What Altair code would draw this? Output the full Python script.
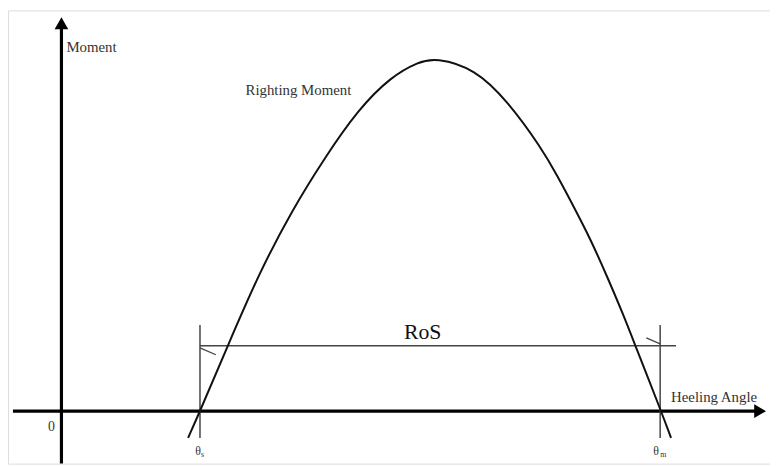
import altair as alt
import pandas as pd

# Righting moment curve (heeling angle units, moment units)
curve_x = [128, 140, 168, 200, 233, 266, 300, 333, 361, 378, 418, 451, 485, 501, 518, 535, 551, 568, 580, 606, 616]
curve_y = [-27, 0, 66, 140, 203, 256, 305, 338, 353, 357, 346, 313, 266, 238, 206, 173, 137, 97, 66, 0, -27]

# key angles / levels
theta_s = 140
theta_m = 605
ros_level = 66
ros_right_end = 621
tick_low, tick_high = -27, 87

# axes extents
x_axis_start, x_axis_end = -49, 706
y_axis_start, y_axis_end = -53, 392

# slanted small dimension marks
slant_x1 = [140, 591]
slant_y1 = [64, 74]
slant_x2 = [156, 605]
slant_y2 = [57, 68]

# labels
label_text = ["Moment", "Righting Moment", "Heeling Angle"]
label_x = [5, 186, 616]
label_y = [363, 319, 9]

X_DOMAIN = [-54, 716]
Y_DOMAIN = [-53, 405]
FONT = "Liberation Serif"

xs = alt.Scale(domain=X_DOMAIN, nice=False, zero=False)
ys = alt.Scale(domain=Y_DOMAIN, nice=False, zero=False)


def X(f, t="quantitative"):
    return alt.X(f, type=t, scale=xs, axis=None)


def Y(f, t="quantitative"):
    return alt.Y(f, type=t, scale=ys, axis=None)


curve_df = pd.DataFrame({"x": curve_x, "y": curve_y})
curve = alt.Chart(curve_df).mark_line(
    color="#111", strokeWidth=2, interpolate="basis"
).encode(x=X("x"), y=Y("y"), order="x:Q")

# main axes
axes_df = pd.DataFrame({
    "x": [x_axis_start, 0],
    "x2": [x_axis_end, 0],
    "y": [0, y_axis_start],
    "y2": [0, y_axis_end],
})
axes = alt.Chart(axes_df).mark_rule(color="#000", strokeWidth=3.2).encode(
    x=X("x"), x2="x2", y=Y("y"), y2="y2"
)

arrow_r = alt.Chart(pd.DataFrame({"x": [x_axis_end], "y": [0]})).mark_point(
    shape="triangle-right", filled=True, color="#000", size=190, opacity=1
).encode(x=X("x"), y=Y("y"))
arrow_u = alt.Chart(pd.DataFrame({"x": [0], "y": [y_axis_end]})).mark_point(
    shape="triangle-up", filled=True, color="#000", size=190, opacity=1
).encode(x=X("x"), y=Y("y"))

# dimension lines
dim_df = pd.DataFrame({
    "x": [theta_s, theta_m, theta_s],
    "x2": [theta_s, theta_m, ros_right_end],
    "y": [tick_low, tick_low, ros_level],
    "y2": [tick_high, tick_high, ros_level],
})
dims = alt.Chart(dim_df).mark_rule(color="#444", strokeWidth=1.5).encode(
    x=X("x"), x2="x2", y=Y("y"), y2="y2"
)

slant_df = pd.DataFrame({"x": slant_x1, "x2": slant_x2, "y": slant_y1, "y2": slant_y2})
slants = alt.Chart(slant_df).mark_rule(color="#444", strokeWidth=1.3).encode(
    x=X("x"), x2="x2", y=Y("y"), y2="y2"
)

labels = alt.Chart(pd.DataFrame({"t": label_text, "x": label_x, "y": label_y})).mark_text(
    font=FONT, fontSize=15, align="left", baseline="alphabetic", color="#333"
).encode(x=X("x"), y=Y("y"), text="t:N")

ros = alt.Chart(pd.DataFrame({"t": ["RoS"], "x": [365], "y": [73]})).mark_text(
    font=FONT, fontSize=22, align="center", baseline="alphabetic", color="#111"
).encode(x=X("x"), y=Y("y"), text="t:N")

zero = alt.Chart(pd.DataFrame({"t": ["0"], "x": [-10], "y": [-20]})).mark_text(
    font=FONT, fontSize=14, align="center", baseline="alphabetic", color="#333"
).encode(x=X("x"), y=Y("y"), text="t:N")

theta = alt.Chart(pd.DataFrame({"t": ["θ", "θ"], "x": [138, 601], "y": [-44, -44]})).mark_text(
    font=FONT, fontSize=12, align="center", baseline="alphabetic", color="#333"
).encode(x=X("x"), y=Y("y"), text="t:N")

subs = alt.Chart(pd.DataFrame({"t": ["s", "m"], "x": [141, 605], "y": [-46, -46]})).mark_text(
    font=FONT, fontSize=8, align="left", baseline="alphabetic", color="#333"
).encode(x=X("x"), y=Y("y"), text="t:N")

chart = alt.layer(
    axes, arrow_r, arrow_u, dims, slants, curve, labels, ros, zero, theta, subs
).properties(
    width=770, height=458, padding=0, autosize=alt.AutoSizeParams(type="none")
).configure_view(strokeWidth=0, stroke="transparent").configure(background="white")

chart.save("out.html", embed_options={"renderer": "svg", "actions": False})
